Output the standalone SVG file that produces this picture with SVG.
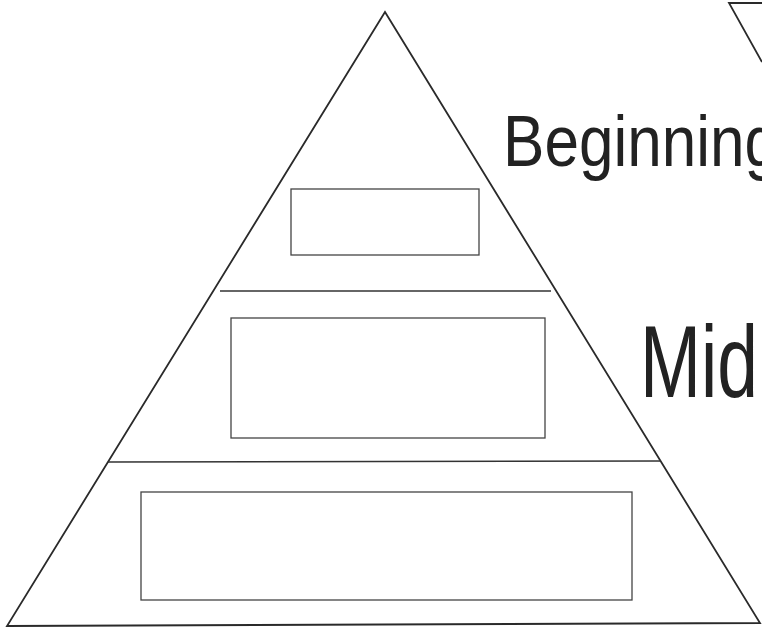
<svg xmlns="http://www.w3.org/2000/svg" width="762" height="629" viewBox="0 0 762 629">
<style>
.edge{fill:none;stroke:#2a2a2a;stroke-width:1.8;stroke-linejoin:miter}
.div{fill:none;stroke:#333;stroke-width:1.5}
.box{fill:none;stroke:#444;stroke-width:1.3}
.hand{font-family:"Liberation Sans","DejaVu Sans",sans-serif;fill:#222}
</style>
<rect width="762" height="629" fill="#ffffff"/>
<g id="pyramid">
<polygon class="edge" points="385,12 7,626 760,623"/>
</g>
<g id="corner-shape">
<polyline class="edge" points="762,3 729,3 762,62"/>
</g>
<g id="connectors">
<line class="div" x1="220" y1="291" x2="551" y2="291"/>
<line class="div" x1="108" y1="462" x2="661" y2="461"/>
</g>
<g id="box-top">
<rect class="box" x="291" y="189" width="188" height="66"/>
</g>
<g id="box-middle">
<rect class="box" x="231" y="318" width="314" height="120"/>
</g>
<g id="box-bottom">
<rect class="box" x="141" y="492" width="491" height="108"/>
</g>
<g id="label-beginning">
<text class="hand" transform="translate(503,166) scale(1,1.2)" font-size="60" textLength="276" lengthAdjust="spacingAndGlyphs">Beginning</text>
</g>
<g id="label-mid">
<text class="hand" transform="translate(640,397) scale(1,1.45)" font-size="70" textLength="118" lengthAdjust="spacingAndGlyphs">Mid</text>
</g>
</svg>
